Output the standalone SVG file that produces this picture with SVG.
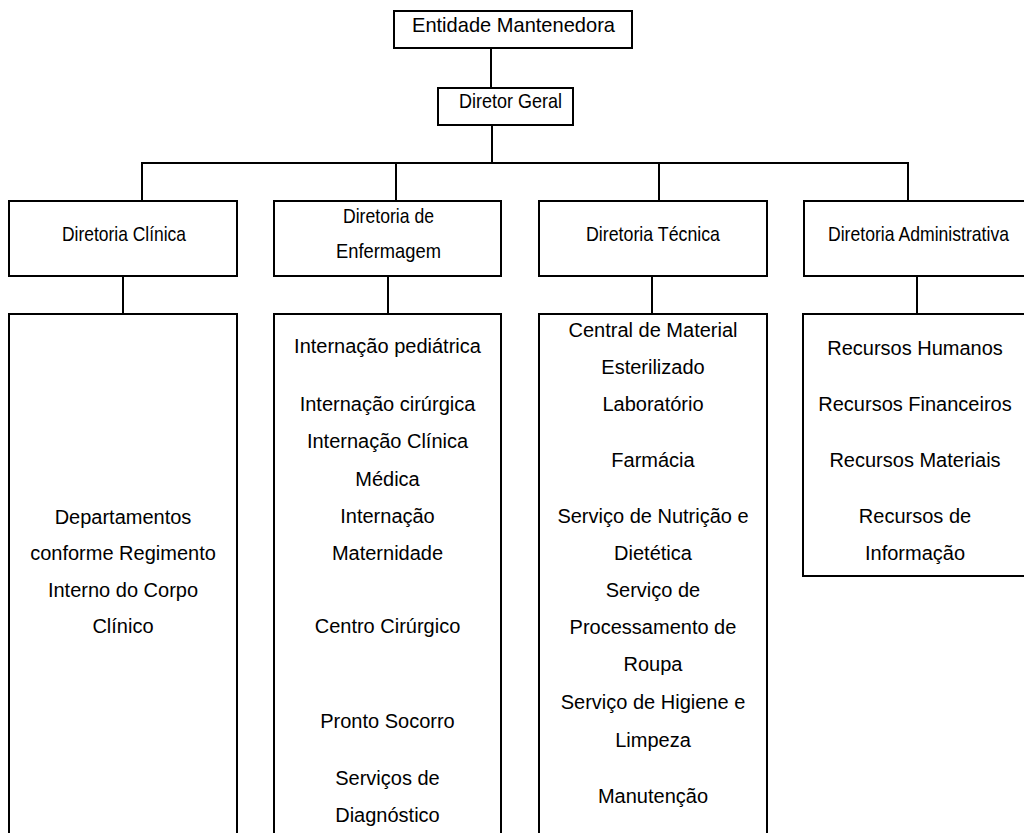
<svg xmlns="http://www.w3.org/2000/svg" width="1024" height="833" viewBox="0 0 1024 833">
  <style>
    .box { fill: #ffffff; stroke: #000000; stroke-width: 2; }
    .wire { fill: none; stroke: #000000; stroke-width: 2; }
    text { font-family: "Liberation Sans", Arial, sans-serif; fill: #000000; text-anchor: middle; }
    .top { font-size: 21px; }
    .head { font-size: 21px; }
    .body { font-size: 20px; }
  </style>
  <rect width="1024" height="833" fill="#ffffff"/>

  <!-- connectors -->
  <g id="connectors">
    <line class="wire" x1="491" y1="48" x2="491" y2="88"/>
    <line class="wire" x1="492" y1="125" x2="492" y2="163"/>
    <line class="wire" x1="141" y1="163" x2="909" y2="163"/>
    <line class="wire" x1="142" y1="163" x2="142" y2="201"/>
    <line class="wire" x1="396" y1="163" x2="396" y2="201"/>
    <line class="wire" x1="659" y1="163" x2="659" y2="201"/>
    <line class="wire" x1="908" y1="163" x2="908" y2="201"/>
    <line class="wire" x1="123" y1="276" x2="123" y2="314"/>
    <line class="wire" x1="388" y1="276" x2="388" y2="314"/>
    <line class="wire" x1="652" y1="276" x2="652" y2="314"/>
    <line class="wire" x1="917" y1="276" x2="917" y2="314"/>
  </g>

  <!-- top levels -->
  <g id="entidade-mantenedora">
    <rect class="box" x="394" y="11" width="238" height="37"/>
    <text class="top" x="513.5" y="32" textLength="203" lengthAdjust="spacingAndGlyphs">Entidade Mantenedora</text>
  </g>
  <g id="diretor-geral">
    <rect class="box" x="438" y="88" width="135" height="37"/>
    <text class="top" x="510.5" y="108" textLength="103" lengthAdjust="spacingAndGlyphs">Diretor Geral</text>
  </g>

  <!-- directorates -->
  <g id="diretoria-clinica">
    <rect class="box" x="9" y="201" width="228" height="75"/>
    <text class="head" x="124" y="241" textLength="124" lengthAdjust="spacingAndGlyphs">Diretoria Clínica</text>
  </g>
  <g id="diretoria-enfermagem">
    <rect class="box" x="274" y="201" width="227" height="75"/>
    <text class="head" x="388.5" y="222.5" textLength="91" lengthAdjust="spacingAndGlyphs">Diretoria de</text>
    <text class="head" x="388.5" y="258" textLength="105" lengthAdjust="spacingAndGlyphs">Enfermagem</text>
  </g>
  <g id="diretoria-tecnica">
    <rect class="box" x="539" y="201" width="228" height="75"/>
    <text class="head" x="653" y="241" textLength="134" lengthAdjust="spacingAndGlyphs">Diretoria Técnica</text>
  </g>
  <g id="diretoria-administrativa">
    <rect class="box" x="804" y="201" width="230" height="75"/>
    <text class="head" x="918.5" y="241" textLength="181" lengthAdjust="spacingAndGlyphs">Diretoria Administrativa</text>
  </g>

  <!-- units under each directorate -->
  <g id="unidades-clinica">
    <rect class="box" x="9" y="314" width="228" height="530"/>
    <text class="body" x="123" y="524">Departamentos</text>
    <text class="body" x="123" y="560">conforme Regimento</text>
    <text class="body" x="123" y="597">Interno do Corpo</text>
    <text class="body" x="123" y="633">Clínico</text>
  </g>
  <g id="unidades-enfermagem">
    <rect class="box" x="274" y="314" width="227" height="530"/>
    <text class="body" x="387.5" y="353">Internação pediátrica</text>
    <text class="body" x="387.5" y="411">Internação cirúrgica</text>
    <text class="body" x="387.5" y="448">Internação Clínica</text>
    <text class="body" x="387.5" y="486">Médica</text>
    <text class="body" x="387.5" y="523">Internação</text>
    <text class="body" x="387.5" y="560">Maternidade</text>
    <text class="body" x="387.5" y="633">Centro Cirúrgico</text>
    <text class="body" x="387.5" y="728">Pronto Socorro</text>
    <text class="body" x="387.5" y="785">Serviços de</text>
    <text class="body" x="387.5" y="822">Diagnóstico</text>
  </g>
  <g id="unidades-tecnica">
    <rect class="box" x="539" y="314" width="228" height="530"/>
    <text class="body" x="653" y="337">Central de Material</text>
    <text class="body" x="653" y="374">Esterilizado</text>
    <text class="body" x="653" y="411">Laboratório</text>
    <text class="body" x="653" y="467">Farmácia</text>
    <text class="body" x="653" y="523">Serviço de Nutrição e</text>
    <text class="body" x="653" y="560">Dietética</text>
    <text class="body" x="653" y="597">Serviço de</text>
    <text class="body" x="653" y="634">Processamento de</text>
    <text class="body" x="653" y="671">Roupa</text>
    <text class="body" x="653" y="709">Serviço de Higiene e</text>
    <text class="body" x="653" y="747">Limpeza</text>
    <text class="body" x="653" y="803">Manutenção</text>
  </g>
  <g id="unidades-administrativa">
    <rect class="box" x="803" y="314" width="231" height="262"/>
    <text class="body" x="915" y="355">Recursos Humanos</text>
    <text class="body" x="915" y="411">Recursos Financeiros</text>
    <text class="body" x="915" y="467">Recursos Materiais</text>
    <text class="body" x="915" y="523">Recursos de</text>
    <text class="body" x="915" y="560">Informação</text>
  </g>
</svg>
